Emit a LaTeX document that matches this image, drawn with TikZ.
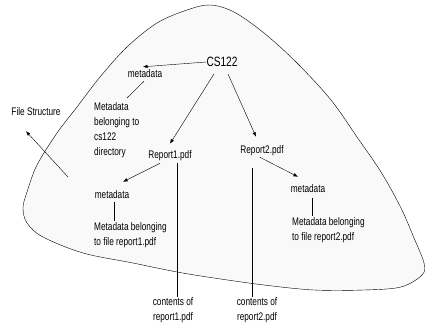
\documentclass[tikz,border=0pt]{standalone}
\usepackage{fontspec}
\setmainfont{Liberation Sans}[FakeStretch=0.75]
\usetikzlibrary{arrows.meta}
\colorlet{blobgray}{gray!5}

\begin{document}
\begin{tikzpicture}[x=1pt,y=-1pt,>={Latex[length=4.5pt,width=3.5pt]},
	lbl/.style={inner sep=0pt,font=\fontsize{11}{15}\selectfont},
	txt/.style={lbl,anchor=north west,align=left},
	cnt/.style={lbl,anchor=north,align=center}]
	\useasboundingbox (0,0) rectangle (428,330);
	\fill[draw=black, thin, fill=blobgray] plot[smooth cycle, tension=0.55] coordinates {(210,5) (187,10) (157,23) (127,47) (100,77) (77,107) (57,133) (37,165) (27,192) (23,208) (27,223) (43,237) (83,253) (133,263) (177,272) (214,278) (264,285) (314,290) (364,290) (401,287) (422,275) (424,263) (414,238) (401,208) (381,172) (357,137) (331,100) (297,63) (264,33) (234,12)};
	\node[lbl,font=\fontsize{13.5}{15}\selectfont] (cs) at (222,62) {CS122};
	\node[lbl] (meta0) at (145,74) {metadata};
	\node[txt] (desc0) at (94,102) {Metadata\\belonging to\\cs122\\directory};
	\node[lbl] (fs) at (36,112) {File Structure};
	\coordinate (fssrc) at (68,177);
	\node[lbl] (rep1) at (170,156) {Report1.pdf};
	\node[lbl] (rep2) at (262,151) {Report2.pdf};
	\node[lbl] (meta1) at (112,195) {metadata};
	\node[txt] (desc1) at (94,222) {Metadata belonging\\to file report1.pdf};
	\node[lbl] (meta2) at (308,189) {metadata};
	\node[txt] (desc2) at (292,217) {Metadata belonging\\to file report2.pdf};
	\node[cnt] (cont1) at (173,297) {contents of\\report1.pdf};
	\node[cnt] (cont2) at (257,297) {contents of\\report2.pdf};
	\draw[->] (cs.west) -- ([xshift=-2pt,yshift=3pt]meta0.north);
	\draw[->] ([xshift=-8pt,yshift=-7pt]cs.south) -- ([yshift=7pt]rep1.north);
	\draw[->] ([xshift=6pt,yshift=-7pt]cs.south) -- ([xshift=-6pt,yshift=9pt]rep2.north);
	\draw[->] (fssrc) -- ([xshift=-10pt,yshift=-15pt]fs.south);
	\draw ([xshift=-1pt,yshift=-3pt]meta0.south) -- ([xshift=33pt,yshift=4pt]desc0.north west);
	\draw[->] ([xshift=-10pt,yshift=-2pt]rep1.south) -- ([xshift=11pt,yshift=9pt]meta1.north);
	\draw ([xshift=2pt,yshift=-3pt]meta1.south) -- ([xshift=20pt,yshift=1pt]desc1.north west);
	\draw ([xshift=7pt,yshift=-2pt]rep1.south) -- ([xshift=4pt]cont1.north);
	\draw[->] ([xshift=-2pt,yshift=-1pt]rep2.south) -- ([xshift=-10pt,yshift=8pt]meta2.north);
	\draw ([xshift=4pt,yshift=-5pt]meta2.south) -- ([xshift=20pt,yshift=1pt]desc2.north west);
	\draw ([xshift=-10pt,yshift=-12pt]rep2.south) -- ([xshift=-5pt]cont2.north);
\end{tikzpicture}
\end{document}
